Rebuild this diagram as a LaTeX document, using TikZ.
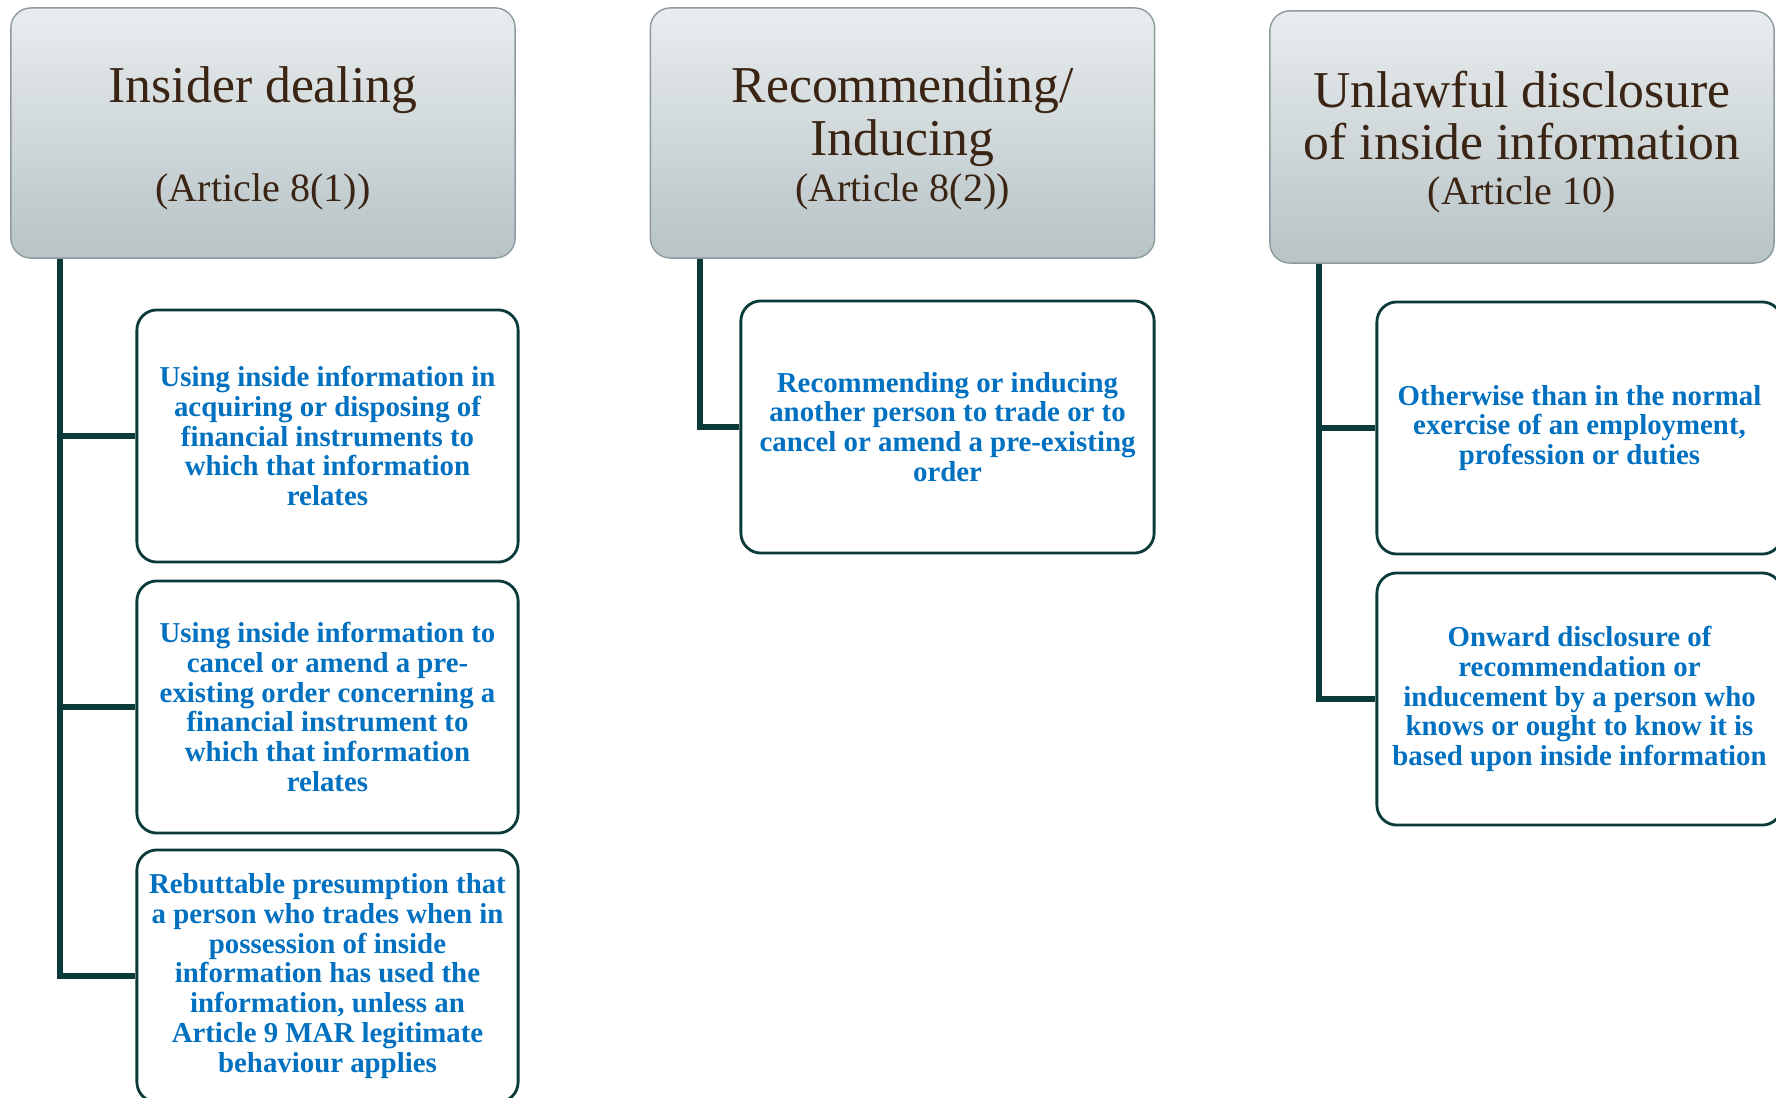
\documentclass[tikz,border=0pt]{standalone}
\usepackage{fontspec}
\setmainfont{Liberation Serif}
\definecolor{headtop}{HTML}{E9EDEF}
\definecolor{headbot}{HTML}{B7C3C5}
\definecolor{headline}{HTML}{8E9B9E}
\definecolor{headtext}{HTML}{3A2414}
\definecolor{trunk}{HTML}{0B3A3B}
\definecolor{itemtext}{HTML}{0070C0}
\newcommand{\artline}[1]{{\fontsize{11.4}{13}\selectfont #1}}
\newcommand{\topstrut}{\rule{0pt}{13.2pt}}
\begin{document}
\begin{tikzpicture}[x=0.01cm,y=-0.01cm,
    head/.style={draw=headline,rounded corners=0.2cm,top color=headtop,bottom color=headbot,
      minimum width=5.04cm,minimum height=2.5cm,align=center,text=headtext,
      font=\fontsize{14.7}{15}\selectfont},
    item/.style={draw=trunk,line width=0.8pt,fill=white,rounded corners=0.2cm,
      minimum height=2.52cm,align=center,text=itemtext,
      font=\bfseries\fontsize{8.2}{8.5}\selectfont},
    branch/.style={draw=trunk,line width=1.6pt}]
  \useasboundingbox (0,0) rectangle (1776,1097);

  \node[head] (hd1) at (263,133) {\topstrut Insider dealing\\[13.2pt]\artline{(Article 8(1))}};
  \node[head] (hd2) at (902.5,133) {\topstrut Recommending/\\Inducing\\[-2pt]\artline{(Article 8(2))}};
  \node[head,minimum height=2.52cm] (hd3) at (1522,137) {\topstrut Unlawful disclosure\\of inside information\\[-2.2pt]\artline{(Article 10)}};

  \node[item,minimum width=3.81cm] (c11) at (327.5,436) {Using inside information in\\acquiring or disposing of\\financial instruments to\\which that information\\relates};
  \node[item,minimum width=3.81cm] (c12) at (327.5,707) {Using inside information to\\cancel or amend a pre-\\existing order concerning a\\financial instrument to\\which that information\\relates};
  \node[item,minimum width=3.81cm] (c13) at (327.5,976) {Rebuttable presumption that\\a person who trades when in\\possession of inside\\information has used the\\information, unless an\\Article 9 MAR legitimate\\behaviour applies};

  \node[item,minimum width=4.13cm] (c21) at (947.5,427) {Recommending or inducing\\another person to trade or to\\cancel or amend a pre-existing\\order};

  \node[item,minimum width=4.05cm] (c31) at (1579.5,428) {Otherwise than in the normal\\exercise of an employment,\\profession or duties};
  \node[item,minimum width=4.05cm] (c32) at (1579.5,699) {Onward disclosure of\\recommendation or\\inducement by a person who\\knows or ought to know it is\\based upon inside information};

  \foreach \c in {c11,c12,c13}
    \draw[branch] ([xshift=0.5cm]hd1.south west) |- (\c.west);
  \draw[branch] ([xshift=0.5cm]hd2.south west) |- (c21.west);
  \foreach \c in {c31,c32}
    \draw[branch] ([xshift=0.5cm]hd3.south west) |- (\c.west);
\end{tikzpicture}
\end{document}
